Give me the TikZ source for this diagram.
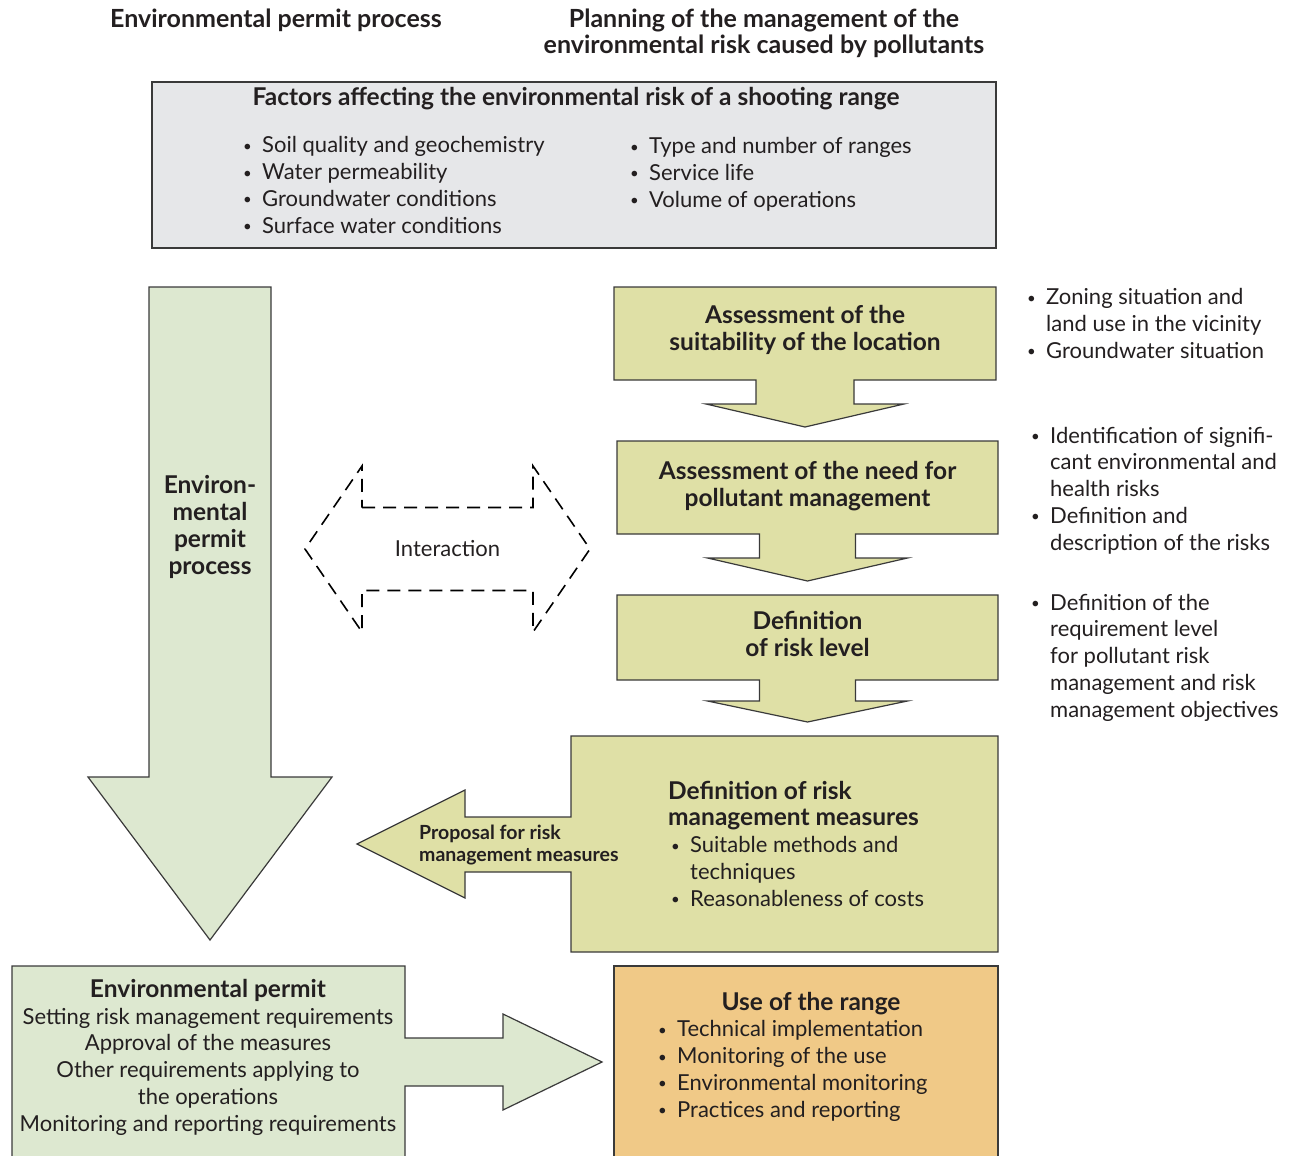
\documentclass[tikz,border=0pt]{standalone}
\usepackage{fontspec}
\setmainfont{Lato}
\usetikzlibrary{positioning,calc}
\definecolor{permitgreen}{HTML}{DDE8D0}
\definecolor{planolive}{HTML}{DFE0A6}
\definecolor{factorgray}{HTML}{E6E7E9}
\definecolor{useorange}{HTML}{F0C987}
\definecolor{edgegray}{HTML}{3A3A3A}
\definecolor{inkblack}{HTML}{231F20}
\newcommand{\listdot}{\raisebox{1.5pt}{\fontsize{15}{15}\selectfont\textbullet}}
\newcommand{\bul}{\makebox[19pt][l]{\listdot}}
\newcommand{\cont}{\hspace*{19pt}}

\begin{document}
\begin{tikzpicture}[x=1pt,y=-1pt,
            every node/.style={inner sep=0pt, text=inkblack},
            frame/.style={inner sep=0pt, outer sep=0pt},
            body/.style={font=\fontsize{22}{26.7}\selectfont, align=left},
            head/.style={font=\bfseries\fontsize{24.5}{27}\selectfont, align=center},
            toptitle/.style={font=\bfseries\fontsize{25}{26}\selectfont, align=center},
            small/.style={font=\bfseries\fontsize{19.5}{22}\selectfont, align=left},
            greenbox/.style={draw=edgegray, line width=1.2pt, fill=permitgreen},
            olivebox/.style={draw=edgegray, line width=1.2pt, fill=planolive},
            graybox/.style={draw=edgegray, line width=1.2pt, fill=factorgray},
            orangebox/.style={draw=edgegray, line width=1.2pt, fill=useorange},
            interline/.style={draw=black, line width=1.6pt, dash pattern=on 13pt off 8pt}
  ]
  \clip (0,0) rectangle (1294,1156);

  % column titles
  \node[toptitle, anchor=base] (permtitle) at (276,28) {Environmental permit process};
  \node[toptitle, anchor=base] (plantitle) at (764,54) {Planning of the management of the\\environmental risk caused by pollutants};

  % factors
  \node[frame, minimum width=844, minimum height=166] (factors) at (574,165) {};
  \draw[graybox] (factors.north west) rectangle (factors.south east);
  \node[head, anchor=base] (factorhead) at (576,106) {Factors affecting the environmental risk of a shooting range};
  \node[body, anchor=base west] (sitefactors) at (243,233) {\bul Soil quality and geochemistry\\\bul Water permeability\\\bul Groundwater conditions\\\bul Surface water conditions};
  \node[body, anchor=base west] (rangefactors) at (630,207) {\bul Type and number of ranges\\\bul Service life\\\bul Volume of operations};

  % permit process arrow
  \node[frame, minimum width=122, minimum height=490] (shaft) at (210,532) {};
  \draw[greenbox] (shaft.north west) -- (shaft.north east) -- (shaft.south east) -- ++(61,0)
      -- ($(shaft.south)+(0,163)$) -- ++(-122,-163) -- ++(61,0) -- cycle;
  \node[head] (shafttext) at (210,527) {Environ-\\mental\\permit\\process};

  % planning steps
  \node[frame, minimum width=382, minimum height=93] (suit) at (805,333.5) {};
  \draw[olivebox] (suit.north west) -| (suit.south east) -- ($(suit.south)+(49,0)$) -- ++(0,24) -- ++(50,0)
      -- ($(suit.south)+(0,47)$) -- ++(-99,-23) -- ++(50,0) -- ++(0,-24) -- (suit.south west) -- cycle;
  \node[head] (suittext) at ($(suit.center)+(0,-4)$) {Assessment of the\\suitability of the location};

  \node[frame, minimum width=381, minimum height=93] (need) at (807.5,487.5) {};
  \draw[olivebox] (need.north west) -| (need.south east) -- ($(need.south)+(48,0)$) -- ++(0,24) -- ++(52,0)
      -- ($(need.south)+(0,47)$) -- ++(-100,-23) -- ++(52,0) -- ++(0,-24) -- (need.south west) -- cycle;
  \node[head] (needtext) at ($(need.center)+(0,-1)$) {Assessment of the need for\\pollutant management};

  \node[frame, minimum width=381, minimum height=85] (level) at (807.5,637.5) {};
  \draw[olivebox] (level.north west) -| (level.south east) -- ($(level.south)+(48,0)$) -- ++(0,21) -- ++(52,0)
      -- ($(level.south)+(0,42)$) -- ++(-100,-21) -- ++(52,0) -- ++(0,-21) -- (level.south west) -- cycle;
  \node[head] (leveltext) at ($(level.center)+(0,-4)$) {Definition\\of risk level};

  \node[frame, minimum width=427, minimum height=216] (measures) at (784.5,844) {};
  \draw[olivebox] (measures.north west) -| (measures.south east) -| ($(measures.west)+(0,28)$) -- ++(-106,0)
      -- ++(0,26) -- ($(measures.west)+(-214,0)$) -- ++(108,-54) -- ++(0,27) -- ++(106,0) -- cycle;
  \node[body, anchor=base west] (meastext) at (668,906) {{\bfseries\fontsize{24.5}{27}\selectfont Definition of risk}\\{\bfseries\fontsize{24.5}{27}\selectfont management measures}\\
      \hspace*{3pt}\makebox[19pt][l]{\listdot}Suitable methods and\\\hspace*{22pt}techniques\\
      \hspace*{3pt}\makebox[19pt][l]{\listdot}Reasonableness of costs};
  \node[small, anchor=base west] (proposal) at (419,861) {Proposal for risk\\management measures};

  % interaction
  \node[body] (inter) at (447.5,549) {Interaction};
  \draw[interline] ($(inter)+(-85.5,-41.5)$) -- ++(171,0) -- ++(0,-41.5) -- ++(57,83) -- ++(-57,83)
      -- ++(0,-41.5) -- ++(-171,0) -- ++(0,41.5) -- ++(-57,-83) -- ++(57,-83) -- cycle;

  % notes on the right
  \node[body, anchor=base west] (sitenotes) at (1027,358) {\bul Zoning situation and\\\cont land use in the vicinity\\\bul Groundwater situation};
  \node[body, anchor=base west] (risknotes) at (1031,550) {\bul Identification of signifi-\\\cont cant environmental and\\\cont health risks\\\bul Definition and\\\cont description of the risks};
  \node[body, anchor=base west] (levelnotes) at (1031,717) {\bul Definition of the\\\cont requirement level\\\cont for pollutant risk\\\cont management and risk\\\cont management objectives};

  % permit and use
  \node[frame, minimum width=393, minimum height=204] (permit) at (208.5,1068) {};
  \draw[greenbox] (permit.south west) |- (permit.north east) -- ++(0,72) -- ++(98,0) -- ++(0,-24) -- ++(99,48)
      -- ++(-99,48) -- ++(0,-24) -- ++(-98,0) -- (permit.south east) -- cycle;
  \node[body, align=center, anchor=base] (permittext) at (208,1131) {{\bfseries\fontsize{24.5}{27}\selectfont Environmental permit}\\Setting risk management requirements\\Approval of the measures\\Other requirements applying to\\the operations\\Monitoring and reporting requirements};

  \node[frame, minimum width=384, minimum height=204] (userange) at (806,1068) {};
  \draw[orangebox] (userange.north west) rectangle (userange.south east);
  \node[head, anchor=base] (usehead) at (811,1010) {Use of the range};
  \node[body, anchor=base west] (uselist) at (658,1117) {\bul Technical implementation\\\bul Monitoring of the use\\\bul Environmental monitoring\\\bul Practices and reporting};

\end{tikzpicture}
\end{document}
